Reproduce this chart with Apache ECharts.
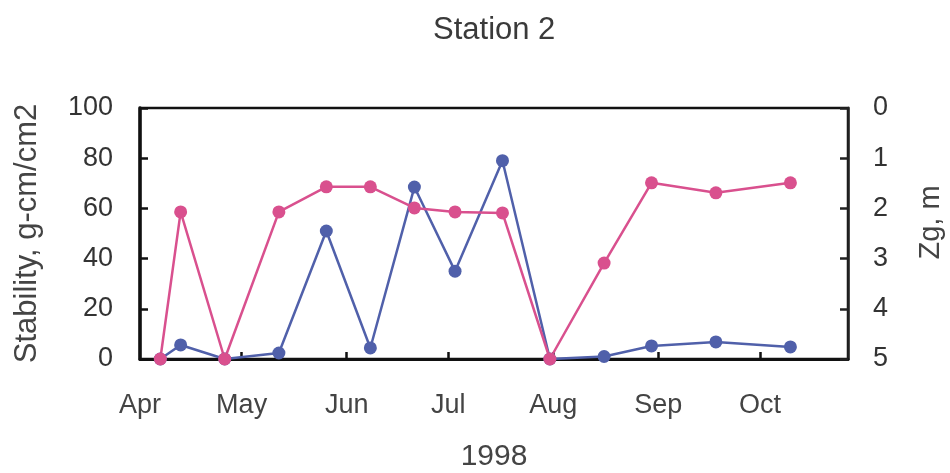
<!DOCTYPE html>
<html>
<head>
<meta charset="utf-8">
<script src="https://cdn.jsdelivr.net/npm/echarts@6/dist/echarts.min.js"></script>
<style>html,body{margin:0;padding:0;background:#fff}#c{width:950px;height:473px}</style>
</head>
<body>
<div id="c"></div>
<script>
// Sampling dates (1998)
const dates = ['1998-04-07','1998-04-13','1998-04-26','1998-05-12','1998-05-26','1998-06-08','1998-06-21',
               '1998-07-03','1998-07-17','1998-07-31','1998-08-16','1998-08-30','1998-09-18','1998-10-10'];
// Stability, g-cm/cm2 (left axis)
const stability = [0, 5.6, 0, 2.4, 51, 4.4, 68.5, 35, 79, 0, 1, 5.2, 6.8, 4.8];
// Zg, m (right axis, inverted)
const zg = [5, 2.07, 5, 2.07, 1.57, 1.57, 1.99, 2.07, 2.09, 5, 3.09, 1.49, 1.69, 1.49];
// Month tick labels
const monthLabels = ['Apr','May','Jun','Jul','Aug','Sep','Oct'];
const monthStarts = ['1998-04-01','1998-05-01','1998-06-01','1998-07-01','1998-08-01','1998-09-01','1998-10-01'];
const axisEnd = '1998-10-27';

const base = Date.UTC(1998, 3, 1);
function dayOf(s){ const p = s.split('-'); return Math.round((Date.UTC(+p[0], +p[1]-1, +p[2]) - base) / 86400000); }
const monthDays = monthStarts.map(dayOf);
const labelMap = {}; monthDays.forEach((d,i)=>{ labelMap[d] = monthLabels[i]; });

const font = 'Liberation Sans, Arial, sans-serif';
const chart = echarts.init(document.getElementById('c'));
chart.setOption({
  animation: false,
  backgroundColor: '#fff',
  title: { text: 'Station 2', left: 428, top: 10,
    textStyle: { fontFamily: font, fontSize: 31, fontWeight: 'normal', color: '#3a3a3a' } },
  grid: { left: 140, right: 102, top: 108, bottom: 114, show: true, borderColor: '#111', borderWidth: 2.5,
    outerBoundsMode: 'none', containLabel: false },
  xAxis: {
    type: 'value', min: 0, max: dayOf(axisEnd),
    name: '1998', nameLocation: 'middle', nameGap: 83,
    nameTextStyle: { fontFamily: font, fontSize: 30, color: '#444' },
    axisLine: { show: true, lineStyle: { color: '#111', width: 3 } },
    axisTick: { show: true, inside: true, length: 7, customValues: monthDays.slice(1), lineStyle: { color: '#111', width: 2.5 } },
    axisLabel: { customValues: monthDays, formatter: v => labelMap[v] || '', margin: 33,
      fontFamily: font, fontSize: 27, color: '#444' },
    splitLine: { show: false }
  },
  yAxis: [
    { type: 'value', min: 0, max: 100, interval: 20, position: 'left',
      name: 'Stability, g-cm/cm2', nameLocation: 'middle', nameGap: 97, nameRotate: 90,
      nameTextStyle: { fontFamily: font, fontSize: 31, color: '#444' },
      axisLine: { show: true, lineStyle: { color: '#111', width: 3.5 } },
      axisTick: { show: true, inside: true, length: 8, lineStyle: { color: '#111', width: 2.5 } },
      axisLabel: { margin: 27, fontFamily: font, fontSize: 27, color: '#333', padding: [10, 0, 0, 0] },
      splitLine: { show: false } },
    { type: 'value', min: 0, max: 5, interval: 1, inverse: true, position: 'right',
      name: 'Zg, m', nameLocation: 'middle', nameGap: 68, nameRotate: 90,
      nameTextStyle: { fontFamily: font, fontSize: 29, color: '#444', padding: [0, 0, 0, 22] },
      axisLine: { show: true, lineStyle: { color: '#222', width: 2.5 } },
      axisTick: { show: true, inside: true, length: 8, lineStyle: { color: '#222', width: 2.5 } },
      axisLabel: { margin: 25, fontFamily: font, fontSize: 27, color: '#333', padding: [4, 0, 0, 0] },
      splitLine: { show: false } }
  ],
  series: [
    { type: 'line', yAxisIndex: 0, data: dates.map((d,i)=>[dayOf(d), stability[i]]),
      symbol: 'circle', symbolSize: 13, clip: false,
      lineStyle: { color: '#5060aa', width: 2.5 }, itemStyle: { color: '#5060aa' } },
    { type: 'line', yAxisIndex: 1, data: dates.map((d,i)=>[dayOf(d), zg[i]]),
      symbol: 'circle', symbolSize: 13, clip: false,
      lineStyle: { color: '#d9508e', width: 2.5 }, itemStyle: { color: '#d9508e' } }
  ]
});
</script>
</body>
</html>
